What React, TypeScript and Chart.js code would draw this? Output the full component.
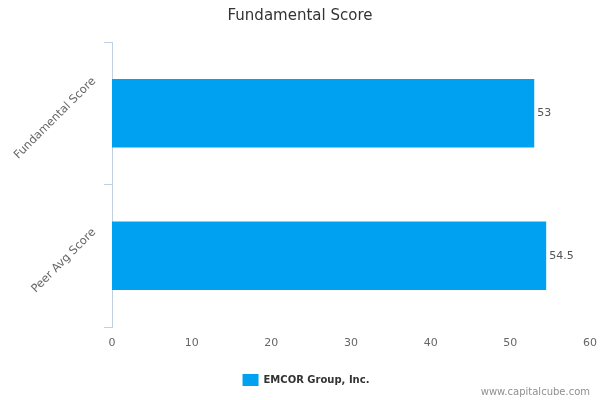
import { useEffect, useRef } from 'react';
import Chart from 'chart.js/auto';

const categories = ['Fundamental Score', 'Peer Avg Score'];
const scores = [53, 54.5];
const seriesName = 'EMCOR Group, Inc.';
const xTicks = [0, 10, 20, 30, 40, 50, 60];

const FONT = '"DejaVu Sans", Verdana, sans-serif';
const BAR = '#00a1f1';

// rotated category labels, anchored the way the original draws them
const categoryLabels = {
  id: 'categoryLabels',
  afterLayout(chart: any) {
    // center title on the page and nudge the legend like the original
    chart.titleBlock.left += 10;
    chart.legend.left += 22;
  },
  afterDraw(chart: any) {
    const y = chart.scales.y;
    const ctx = chart.ctx;
    ctx.save();
    ctx.font = `11.4px ${FONT}`;
    ctx.fillStyle = '#666666';
    ctx.textAlign = 'center';
    ctx.textBaseline = 'middle';
    categories.forEach((label, i) => {
      const py = y.getPixelForTick(i);
      const w = ctx.measureText(label).width;
      const d = (w * Math.SQRT1_2) / 2;
      ctx.save();
      ctx.translate(y.right - 18 - d, py + 5);
      ctx.rotate(-Math.PI / 4);
      ctx.fillText(label, 0, 0);
      ctx.restore();
    });
    ctx.restore();
  },
};

// value at the end of each bar, plus the site credit
const barValues = {
  id: 'barValues',
  afterDatasetsDraw(chart: any) {
    const ctx = chart.ctx;
    const meta = chart.getDatasetMeta(0);
    ctx.save();
    ctx.font = `11px ${FONT}`;
    ctx.fillStyle = '#555555';
    ctx.textAlign = 'left';
    ctx.textBaseline = 'middle';
    meta.data.forEach((bar: any, i: number) => {
      ctx.fillText(String(scores[i]), bar.x + 3, bar.y);
    });
    ctx.font = `10px ${FONT}`;
    ctx.fillStyle = '#909090';
    ctx.textAlign = 'right';
    ctx.fillText('www.capitalcube.com', chart.width - 10, 392);
    ctx.restore();
  },
};

export default function App() {
  const chartRef = useRef<HTMLCanvasElement>(null);
  const chartInstance = useRef<Chart | null>(null);

  useEffect(() => {
    if (!chartRef.current) return;
    if (chartInstance.current) {
      chartInstance.current.destroy();
    }
    const ctx = chartRef.current.getContext('2d');
    if (!ctx) return;

    chartInstance.current = new Chart(ctx, {
      type: 'bar',
      data: {
        labels: categories,
        datasets: [{
          label: seriesName,
          data: scores,
          backgroundColor: BAR,
          borderWidth: 0,
          barPercentage: 0.48,
          categoryPercentage: 1,
        }]
      },
      options: {
        indexAxis: 'y',
        animation: false,
        responsive: true,
        maintainAspectRatio: false,
        layout: { padding: { top: 0, right: 10, bottom: 4, left: 0 } },
        scales: {
          x: {
            min: 0,
            max: 60,
            afterBuildTicks: (scale: any) => {
              scale.ticks = xTicks.map(v => ({ value: v }));
            },
            afterFit: (scale: any) => {
              scale.height = 37;
              scale.paddingLeft = 0;
              scale.paddingRight = 0;
            },
            grid: { display: false, drawTicks: false },
            border: { display: false },
            ticks: {
              padding: 10,
              color: '#666666',
              font: { family: FONT, size: 11 },
            },
          },
          y: {
            afterFit: (scale: any) => { scale.width = 112; },
            grid: {
              offset: true,
              drawOnChartArea: false,
              drawTicks: true,
              tickLength: 8,
              color: '#c0d0e0',
            },
            border: { display: true, color: '#c0d0e0', width: 1 },
            ticks: { display: false },
          },
        },
        plugins: {
          title: {
            display: true,
            text: 'Fundamental Score',
            color: '#333333',
            font: { family: FONT, size: 15, weight: 'normal' },
            padding: { top: 7, bottom: 17 },
          },
          legend: {
            position: 'bottom',
            labels: {
              boxWidth: 16,
              boxHeight: 12,
              padding: 10,
              color: '#333333',
              font: { family: FONT, size: 10, weight: 'bold' },
            },
          },
          tooltip: { enabled: false },
        }
      },
      plugins: [categoryLabels, barValues],
    });

    return () => {
      if (chartInstance.current) {
        chartInstance.current.destroy();
        chartInstance.current = null;
      }
    };
  }, []);

  return (
    <div style={{ position: 'absolute', left: 0, top: 0, width: 600, height: 400 }}>
      <canvas ref={chartRef} />
    </div>
  );
}
